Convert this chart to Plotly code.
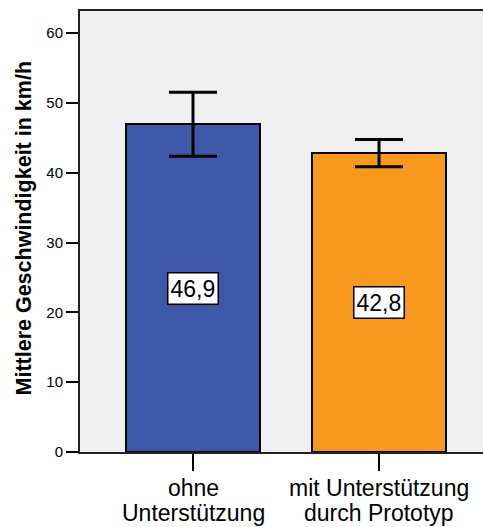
import plotly.graph_objects as go

categories = ["ohne\nUnterstützung", "mit Unterstützung\ndurch Prototyp"]
means = [46.9, 42.8]
err_plus = [4.6, 1.95]
err_minus = [4.55, 1.95]
value_labels = ["46,9", "42,8"]
colors = ["#3d58a9", "#f8991e"]
y_ticks = [0, 10, 20, 30, 40, 50, 60]
y_title = "Mittlere Geschwindigkeit in km/h"

x = list(range(len(categories)))
FONT = "Liberation Sans, Arial"

fig = go.Figure()
fig.add_trace(go.Bar(
    x=x, y=means, width=0.72,
    marker=dict(color=colors, line=dict(color="black", width=2)),
    error_y=dict(type="data", symmetric=False, array=err_plus, arrayminus=err_minus,
                 color="black", thickness=3, width=24),
    showlegend=False, hoverinfo="skip",
))

for xi, m, lab in zip(x, means, value_labels):
    fig.add_annotation(x=xi, y=m / 2, text=lab, showarrow=False,
                       font=dict(family=FONT, size=23, color="black"),
                       bgcolor="white", bordercolor="black", borderwidth=1.5, borderpad=2)

# category labels, two lines each, placed below the axis
for xi, cat in zip(x, categories):
    for k, line in enumerate(cat.split("\n")):
        fig.add_annotation(x=xi, y=0, xref="x", yref="y", text=line, showarrow=False,
                           xanchor="center", yanchor="middle", yshift=-36 - 25 * k,
                           font=dict(family=FONT, size=23, color="black"))

fig.add_annotation(xref="paper", yref="paper", x=0, y=0.5, xshift=-57, yshift=3,
                   text="<b>" + y_title + "</b>", textangle=-90, showarrow=False,
                   xanchor="center", yanchor="middle",
                   font=dict(family=FONT, size=21.5, color="black"))

fig.update_layout(
    width=483, height=527,
    margin=dict(l=80, r=0, t=11, b=75),
    paper_bgcolor="white", plot_bgcolor="#efefef",
    font=dict(family=FONT, color="black"),
    bargap=0,
)
fig.update_xaxes(
    range=[-0.6075, 1.559], tickmode="array", tickvals=x, ticktext=["", ""],
    showline=True, linecolor="#222222", linewidth=2, mirror=True,
    ticks="outside", ticklen=17, tickwidth=2, tickcolor="black",
    showgrid=False, zeroline=False,
)
fig.update_yaxes(
    range=[0, 63.15], tickvals=y_ticks,
    showline=True, linecolor="#222222", linewidth=2, mirror=False,
    ticks="outside", ticklen=12, tickwidth=2, tickcolor="black",
    tickfont=dict(size=15), showgrid=False, zeroline=False,
)

fig.write_html("out.html", config={"displayModeBar": False},
               post_script="document.body.style.margin='0';document.body.style.overflow='hidden';")
